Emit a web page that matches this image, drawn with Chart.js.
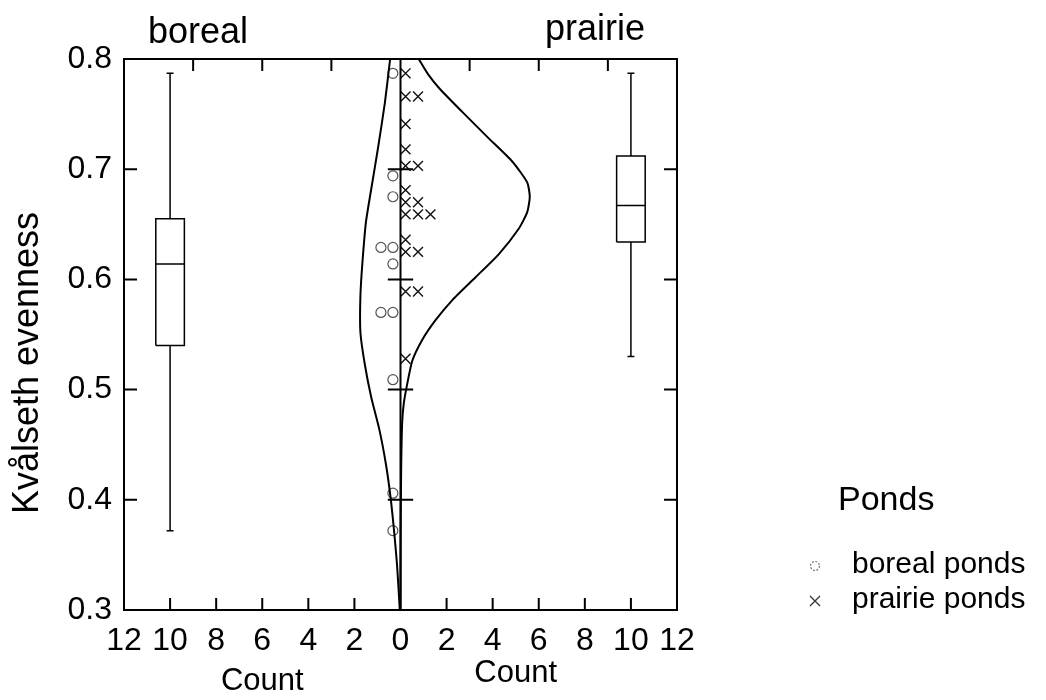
<!DOCTYPE html>
<html>
<head>
<meta charset="utf-8">
<title>Kvålseth evenness – boreal and prairie ponds</title>
<script src="https://cdn.jsdelivr.net/npm/chart.js@4.4.0/dist/chart.umd.min.js"></script>
<style>
  html, body { margin: 0; padding: 0; background: #fff; }
</style>
</head>
<body>
<canvas id="myChart" width="1046" height="700"></canvas>
<script>
// evenness of the single ponds (shown as stacked dots by the centre line)
var borealPonds = [0.787, 0.694, 0.675, 0.629, 0.629, 0.614, 0.570, 0.570, 0.509, 0.406, 0.372];
var prairiePonds = [0.787, 0.766, 0.766, 0.741, 0.718, 0.703, 0.703, 0.681, 0.670, 0.670,
                    0.659, 0.659, 0.659, 0.636, 0.625, 0.625, 0.589, 0.589, 0.528];

// smoothed distribution curves (count at each evenness)
var borealCurveY     = [0.800, 0.760, 0.720, 0.682, 0.652, 0.616, 0.585, 0.552, 0.523, 0.493, 0.463, 0.432, 0.402, 0.372, 0.341, 0.300];
var borealCurveCount = [0.45,  0.68,  0.97,  1.27,  1.50,  1.65,  1.74,  1.74,  1.55,  1.27,  0.91,  0.63,  0.43,  0.28,  0.15,  0.03];
var prairieCurveY     = [0.800, 0.786, 0.773, 0.752, 0.728, 0.707, 0.688, 0.675, 0.661, 0.646, 0.623, 0.602, 0.581, 0.563, 0.545, 0.526, 0.505, 0.487, 0.469, 0.430, 0.380, 0.300];
var prairieCurveCount = [0.79,  1.20,  1.70,  2.68,  3.83,  4.85,  5.50,  5.61,  5.50,  5.13,  4.27,  3.26,  2.24,  1.52,  0.94,  0.51,  0.29,  0.14,  0.07,  0.03,  0.01,  0.00];

// box plots: min, q1, median, q3, max
var borealBox  = [0.372, 0.540, 0.614, 0.655, 0.787];
var prairieBox = [0.530, 0.634, 0.667, 0.712, 0.787];
var boxCentres = [-10, 10];

var countMin = -12, countMax = 12;
var evenMin = 0.3, evenMax = 0.8;

var FONT = '"Liberation Sans", Arial, Helvetica, sans-serif';
Chart.defaults.font.family = FONT;
Chart.defaults.color = '#000';

// dots with the same value are put side by side
function stackDots(values, first, step) {
  var seen = {};
  return values.map(function (v) {
    var k = seen[v] || 0;
    seen[v] = k + 1;
    return { x: first + step * k * Math.sign(first), y: v };
  });
}

function curvePoints(ys, counts, side) {
  return ys.map(function (y, i) { return { x: side * counts[i], y: y }; });
}

// box, median, whiskers and caps as one broken line
function boxPath(s, c) {
  var h = 0.62, cap = 0.15, gap = { x: c, y: null };
  return [
    { x: c - h, y: s[1] }, { x: c + h, y: s[1] }, { x: c + h, y: s[3] }, { x: c - h, y: s[3] }, { x: c - h, y: s[1] }, gap,
    { x: c - h, y: s[2] }, { x: c + h, y: s[2] }, gap,
    { x: c, y: s[3] }, { x: c, y: s[4] }, gap,
    { x: c - cap, y: s[4] }, { x: c + cap, y: s[4] }, gap,
    { x: c, y: s[1] }, { x: c, y: s[0] }, gap,
    { x: c - cap, y: s[0] }, { x: c + cap, y: s[0] }
  ];
}

var lineStyle = { showLine: true, pointRadius: 0, borderColor: '#000', backgroundColor: '#000', spanGaps: false };

var decor = {
  id: 'decor',
  afterDraw: function (chart) {
    var c = chart.ctx, a = chart.chartArea;
    var sx = chart.scales.x, sy = chart.scales.y, st = chart.scales.xTop;
    c.save();
    c.strokeStyle = '#000';
    c.lineWidth = 2;
    c.beginPath();
    sy.ticks.forEach(function (t) {
      if (t.value < evenMin + 1e-6 || t.value > evenMax - 1e-6) return;
      var py = sy.getPixelForValue(t.value);
      c.moveTo(a.left, py); c.lineTo(a.left + 13, py);
      c.moveTo(a.right, py); c.lineTo(a.right - 13, py);
      c.moveTo(sx.getPixelForValue(-0.55), py); c.lineTo(sx.getPixelForValue(0.55), py);
    });
    sx.ticks.forEach(function (t) {
      if (t.value <= countMin || t.value >= countMax) return;
      var px = sx.getPixelForValue(t.value);
      c.moveTo(px, a.bottom); c.lineTo(px, a.bottom - 12);
    });
    st.ticks.forEach(function (t) {
      if (t.value <= countMin || t.value >= countMax || t.value === 0) return;
      var px = st.getPixelForValue(t.value);
      c.moveTo(px, a.top); c.lineTo(px, a.top + 12);
    });
    var x0 = sx.getPixelForValue(0);
    c.moveTo(x0, a.top); c.lineTo(x0, a.bottom);
    c.stroke();

    c.fillStyle = '#000';
    c.textAlign = 'center';
    c.textBaseline = 'middle';
    c.font = '36px ' + FONT;
    c.fillText('boreal', 198, 33);
    c.fillText('prairie', 595, 30);
    c.font = '31px ' + FONT;
    c.fillText('Count', sx.getPixelForValue(-6), 681);
    c.fillText('Count', sx.getPixelForValue(5), 673);

    c.save();
    c.translate(28, 363);
    c.rotate(-Math.PI / 2);
    c.font = '36px ' + FONT;
    c.fillText('Kvålseth evenness', 0, 0);
    c.restore();

    // legend
    c.textAlign = 'left';
    c.font = '34px ' + FONT;
    c.fillText('Ponds', 838, 501);
    c.font = '30px ' + FONT;
    c.fillText('boreal ponds', 852, 565);
    c.fillText('prairie ponds', 852, 600);
    c.lineWidth = 1.2;
    c.strokeStyle = '#777';
    c.setLineDash([2, 1.5]);
    c.beginPath();
    c.arc(815, 566, 4.5, 0, Math.PI * 2);
    c.stroke();
    c.setLineDash([]);
    c.strokeStyle = '#333';
    c.lineWidth = 1.3;
    c.beginPath();
    c.moveTo(810, 596); c.lineTo(820, 606);
    c.moveTo(820, 596); c.lineTo(810, 606);
    c.stroke();
    c.restore();
  }
};

var ctx = document.getElementById('myChart').getContext('2d');
var chart = new Chart(ctx, {
  type: 'scatter',
  data: {
    datasets: [
      Object.assign({ label: 'boreal curve', data: curvePoints(borealCurveY, borealCurveCount, -1), borderWidth: 2, tension: 0.2 }, lineStyle),
      Object.assign({ label: 'prairie curve', data: curvePoints(prairieCurveY, prairieCurveCount, 1), borderWidth: 2, tension: 0.2 }, lineStyle),
      Object.assign({ label: 'boreal box', data: boxPath(borealBox, boxCentres[0]), borderWidth: 1.5, tension: 0 }, lineStyle),
      Object.assign({ label: 'prairie box', data: boxPath(prairieBox, boxCentres[1]), borderWidth: 1.5, tension: 0 }, lineStyle),
      {
        label: 'boreal ponds',
        data: stackDots(borealPonds, -0.33, 0.52),
        pointStyle: 'circle',
        pointRadius: 5,
        borderWidth: 1.2,
        borderColor: '#555',
        backgroundColor: 'rgba(0,0,0,0)'
      },
      {
        label: 'prairie ponds',
        data: stackDots(prairiePonds, 0.22, 0.54),
        pointStyle: 'crossRot',
        pointRadius: 7,
        borderWidth: 1.4,
        borderColor: '#111'
      }
    ]
  },
  options: {
    responsive: false,
    animation: false,
    layout: { padding: 0 },
    plugins: { legend: { display: false }, tooltip: { enabled: false } },
    scales: {
      x: {
        type: 'linear', position: 'bottom', min: countMin, max: countMax,
        grid: { display: false, drawTicks: false },
        border: { color: '#000', width: 2 },
        ticks: { stepSize: 2, autoSkip: false, maxRotation: 0, padding: 12, font: { size: 32 },
                 callback: function (v) { return Math.abs(v); } },
        afterFit: function (s) { s.height = 90; }
      },
      xTop: {
        type: 'linear', position: 'top', min: countMin, max: countMax,
        grid: { display: false, drawTicks: false },
        border: { color: '#000', width: 2 },
        ticks: { display: false, stepSize: 3 },
        afterFit: function (s) { s.height = 59; }
      },
      y: {
        type: 'linear', position: 'left', min: evenMin, max: evenMax,
        grid: { display: false, drawTicks: false },
        border: { color: '#000', width: 2 },
        ticks: { stepSize: 0.1, padding: 12, font: { size: 32 },
                 callback: function (v) { return v.toFixed(1); } },
        afterFit: function (s) { s.width = 124; }
      },
      yRight: {
        type: 'linear', position: 'right', min: evenMin, max: evenMax,
        grid: { display: false, drawTicks: false },
        border: { color: '#000', width: 2 },
        ticks: { display: false, stepSize: 0.1 },
        afterFit: function (s) { s.width = 369; }
      }
    }
  },
  plugins: [decor]
});
</script>
</body>
</html>
